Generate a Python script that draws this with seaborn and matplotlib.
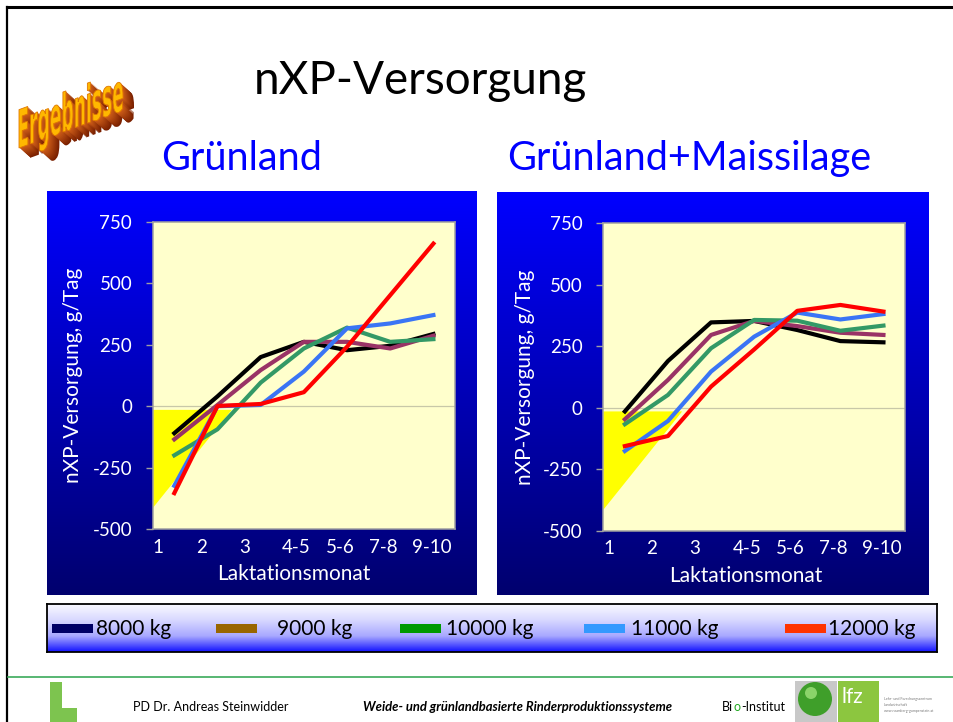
import numpy as np
import pandas as pd
import matplotlib
matplotlib.use("Agg")
import matplotlib.pyplot as plt
import seaborn as sns
from matplotlib.patches import Rectangle, Circle, PathPatch
from matplotlib.textpath import TextPath
from matplotlib.font_manager import FontProperties
from matplotlib.transforms import Affine2D
from matplotlib.colors import LinearSegmentedColormap

plt.rcParams["font.family"] = ["Lato", "DejaVu Sans"]
plt.rcParams["axes.unicode_minus"] = False

# ---------------------------------------------
# DATA
# ---------------------------------------------
months = ["1", "2", "3", "4-5", "5-6", "7-8", "9-10"]
series = ["8000 kg", "9000 kg", "10000 kg", "11000 kg", "12000 kg"]

# Grünland
gr_8000 = [-110, 40, 200, 262, 228, 246, 294]
gr_9000 = [-135, 5, 147, 262, 262, 235, 287]
gr_10000 = [-200, -94, 96, 235, 320, 262, 273]
gr_11000 = [-324, 0, 5, 141, 317, 337, 371]
gr_12000 = [-354, 1, 9, 57, 242, 452, 662]

# Grünland + Maissilage
gm_8000 = [-15, 190, 347, 353, 316, 271, 266]
gm_9000 = [-47, 113, 296, 353, 332, 305, 296]
gm_10000 = [-67, 52, 242, 357, 354, 313, 334]
gm_11000 = [-176, -54, 147, 289, 387, 359, 381]
gm_12000 = [-156, -115, 86, 237, 394, 418, 391]

# yellow deficit triangle (x in category units, y in g/Tag)
tri_x = [-0.5, -0.5, 1.33]
tri_y = [-15, -415, -15]

line_colors = ["#000000", "#993366", "#339966", "#3A75F5", "#FF0000"]
legend_colors = ["#000066", "#996600", "#009900", "#3399FF", "#FF3300"]

# ---------------------------------------------
# LAYOUT HELPERS (pixel coords of the 954x722 slide)
# ---------------------------------------------
W, H = 954, 722
fig = plt.figure(figsize=(W / 100, H / 100), dpi=100)


def fig_rect(x0, y0, x1, y1):
    return [x0 / W, 1 - y1 / H, (x1 - x0) / W, (y1 - y0) / H]


def gradient_axes(x0, y0, x1, y1, colors):
    gax = fig.add_axes(fig_rect(x0, y0, x1, y1))
    cmap = LinearSegmentedColormap.from_list("g", colors)
    gax.imshow(np.linspace(0, 1, 256).reshape(-1, 1), aspect="auto", cmap=cmap,
               extent=[x0, x1, y1, y0], origin="upper")
    gax.set_xlim(x0, x1)
    gax.set_ylim(y1, y0)
    gax.set_xticks([])
    gax.set_yticks([])
    for s in gax.spines.values():
        s.set_visible(False)
    return gax


# background / decoration layer
deco = fig.add_axes([0, 0, 1, 1])
deco.set_xlim(0, W)
deco.set_ylim(H, 0)
deco.axis("off")

# slide border
deco.plot([7, W], [7, 7], color="black", lw=2.2)
deco.plot([7, 7], [7, H], color="black", lw=1.6)

# titles
deco.text(420, 94, "nXP-Versorgung", ha="center", va="baseline", fontsize=33, color="black")
deco.text(242, 170, "Grünland", ha="center", va="baseline", fontsize=28.5, color="#0000FF")
deco.text(689, 170, "Grünland+Maissilage", ha="center", va="baseline", fontsize=28.5,
          color="#0000FF")

# "Ergebnisse" word art (slanted upwards, extruded to the lower right)
fp = FontProperties(family="DejaVu Sans", weight="bold")
tp = TextPath((0, 0), "Ergebnisse", size=1, prop=fp)
ext = tp.get_extents()
sx = 104 / ext.width
sy = 40 / ext.ymax
extrude = LinearSegmentedColormap.from_list("ex", ["#7A2000", "#D2601A"])
n_ex = 11


def wordart_tr(dx, dy):
    return (Affine2D().translate(-ext.xmin, 0).scale(sx, -sy).skew_deg(0, -20)
            .translate(19 + dx, 148 + dy) + deco.transData)


for i in range(n_ex, 0, -1):
    deco.add_patch(PathPatch(tp, transform=wordart_tr(i * 1.0, i * 0.9),
                             facecolor=extrude(1 - i / n_ex), edgecolor="none"))
deco.add_patch(PathPatch(tp, transform=wordart_tr(0, 0), facecolor="#FFB800",
                         edgecolor="#E07800", lw=0.6))

# footer
deco.plot([8, W], [677, 677], color="#3BAA5A", lw=1.2)
deco.text(133, 711, "PD Dr. Andreas Steinwidder", fontsize=9, va="baseline")
deco.text(363, 711, "Weide- und grünlandbasierte Rinderproduktionssysteme", fontsize=9.4,
          fontweight="bold", fontstyle="italic", va="baseline")
t_bi = deco.text(722, 711, "Bi", fontsize=9, va="baseline")
t_o = deco.annotate("o", xy=(1, 0), xycoords=t_bi, xytext=(0.3, 0),
                    textcoords="offset points", fontsize=9, va="bottom", ha="left",
                    color="#22AA22")
deco.annotate("-Institut", xy=(1, 0), xycoords=t_o, xytext=(0.3, 0),
              textcoords="offset points", fontsize=9, va="bottom", ha="left")

# logos
deco.add_patch(Rectangle((50, 682), 12, 40, color="#7DC44F", lw=0))
deco.add_patch(Rectangle((50, 708), 27, 14, color="#7DC44F", lw=0))
deco.add_patch(Rectangle((795, 681), 42, 41, color="#C8C8C8", lw=0))
deco.add_patch(Circle((815, 699), 17, color="#3F9F2A", lw=0))
deco.add_patch(Circle((811, 693), 6, color="#8BD46A", lw=0))
deco.add_patch(Rectangle((838, 681), 41, 41, color="#8CC63F", lw=0))
deco.text(842, 703, "lfz", fontsize=15, color="white", va="baseline")
deco.text(884, 700, "Lehr- und Forschungszentrum", fontsize=2.6, color="#777777")
deco.text(884, 706, "Landwirtschaft", fontsize=2.6, color="#777777")
deco.text(884, 712, "www.raumberg-gumpenstein.at", fontsize=2.6, color="#777777")

# ---------------------------------------------
# PANELS
# ---------------------------------------------
blue_grad = ["#0000FF", "#00006E"]


def draw_panel(bg, plot_rect, values, xlab_x, ylab_x):
    gradient_axes(*bg, blue_grad)
    ax = fig.add_axes(fig_rect(*plot_rect))

    df = pd.DataFrame({
        "Monat": months * len(series),
        "nXP": np.concatenate(values),
        "Leistung": np.repeat(series, len(months)),
    })

    ax.fill(tri_x, tri_y, color="#FFFF00", lw=0, zorder=1)
    ax.axhline(0, color="#C8C8A8", lw=0.9, zorder=1.5)
    sns.lineplot(data=df, x="Monat", y="nXP", hue="Leistung", hue_order=series,
                 palette=dict(zip(series, line_colors)), linewidth=3.0,
                 legend=False, sort=False, ax=ax, zorder=3)

    ax.set_facecolor("#FFFFCC")
    ax.set_xlim(-0.5, len(months) - 0.5)
    ax.set_ylim(-500, 750)
    ax.set_yticks([-500, -250, 0, 250, 500, 750])
    ax.set_xticks(np.arange(len(months)) - 0.5)
    ax.set_xticklabels(months)
    for t in ax.get_xticklabels():
        t.set_ha("left")
    ax.tick_params(axis="y", colors="#A0A0A0", labelcolor="white", labelsize=13.5,
                   length=4.8, width=1.0, pad=10)
    ax.tick_params(axis="x", length=0, labelcolor="white", labelsize=13.5, pad=7)
    for s in ax.spines.values():
        s.set_color("#A0A0A0")
        s.set_linewidth(1.1)

    ax.set_xlabel("Laktationsmonat", color="white", fontsize=15)
    ax.set_ylabel("nXP-Versorgung, g/Tag", color="white", fontsize=15)
    ax.xaxis.set_label_coords(xlab_x, -0.115)
    ax.yaxis.set_label_coords(ylab_x, 0.5)
    ax.grid(False)
    return ax


draw_panel((47, 191, 477, 595), (152.7, 222, 455, 529),
           [gr_8000, gr_9000, gr_10000, gr_11000, gr_12000], 0.467, -0.23)
draw_panel((497, 192, 929, 595), (603.3, 223.3, 905, 530.7),
           [gm_8000, gm_9000, gm_10000, gm_11000, gm_12000], 0.471, -0.226)

# ---------------------------------------------
# LEGEND BAR
# ---------------------------------------------
lax = gradient_axes(47, 604, 937, 652, ["#FAFAFF", "#D8D8FF", "#A8A8FF", "#1010FF"])
for s in lax.spines.values():
    s.set_visible(True)
    s.set_color("black")
    s.set_linewidth(1.3)

swatch_x = [52, 216, 400, 584, 785]
text_x = [96, 277, 446, 631, 828]
for name, col, x0, tx in zip(series, legend_colors, swatch_x, text_x):
    lax.add_patch(Rectangle((x0, 624), 41, 8.5, color=col, lw=0))
    lax.text(tx, 629, name, fontsize=15, va="center", ha="left", color="black")

plt.savefig("out.png", dpi=100)
plt.close()
